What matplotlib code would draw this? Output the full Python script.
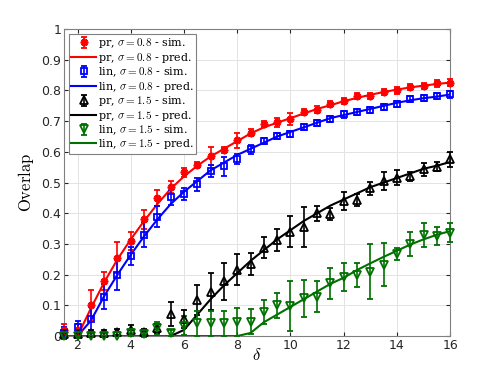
import numpy as np
import matplotlib
matplotlib.use("Agg")
import matplotlib.pyplot as plt

plt.rcParams["mathtext.fontset"] = "cm"

delta = np.arange(1.5, 16.01, 0.5)

# pr, sigma = 0.8
pr08_sim = [0.02, 0.02, 0.10, 0.18, 0.255, 0.31, 0.38, 0.45, 0.486, 0.533,
            0.557, 0.587, 0.606, 0.638, 0.663, 0.69, 0.697, 0.707, 0.73, 0.738,
            0.756, 0.766, 0.782, 0.782, 0.796, 0.80, 0.81, 0.815, 0.823, 0.826]
pr08_err = [0.02, 0.02, 0.05, 0.03, 0.05, 0.03, 0.03, 0.025, 0.02, 0.015,
            0.01, 0.03, 0.01, 0.025, 0.01, 0.01, 0.015, 0.02, 0.01, 0.01,
            0.01, 0.01, 0.01, 0.01, 0.01, 0.01, 0.01, 0.01, 0.01, 0.01]
pr08_pred = [0.0, 0.0, 0.09, 0.175, 0.25, 0.315, 0.375, 0.43, 0.48, 0.52,
             0.555, 0.585, 0.61, 0.635, 0.66, 0.68, 0.695, 0.71, 0.725, 0.74,
             0.752, 0.765, 0.776, 0.786, 0.795, 0.803, 0.81, 0.816, 0.821, 0.826]

# lin, sigma = 0.8
lin08_sim = [0.01, 0.03, 0.054, 0.128, 0.20, 0.26, 0.33, 0.389, 0.452, 0.462,
             0.494, 0.537, 0.553, 0.577, 0.609, 0.635, 0.652, 0.658, 0.68, 0.693,
             0.706, 0.722, 0.729, 0.736, 0.747, 0.756, 0.771, 0.776, 0.783, 0.787]
lin08_err = [0.02, 0.02, 0.04, 0.04, 0.05, 0.03, 0.04, 0.035, 0.025, 0.02,
             0.02, 0.02, 0.03, 0.015, 0.015, 0.01, 0.01, 0.01, 0.01, 0.01,
             0.01, 0.01, 0.01, 0.01, 0.01, 0.01, 0.01, 0.01, 0.01, 0.01]
lin08_pred = [0.0, 0.0, 0.05, 0.13, 0.20, 0.265, 0.325, 0.38, 0.43, 0.47,
              0.505, 0.54, 0.565, 0.59, 0.61, 0.63, 0.65, 0.665, 0.68, 0.695,
              0.71, 0.72, 0.73, 0.74, 0.75, 0.76, 0.768, 0.775, 0.78, 0.787]

# pr, sigma = 1.5
pr15_sim = [0.007, 0.007, 0.01, 0.01, 0.014, 0.02, 0.014, 0.025, 0.072, 0.056,
            0.117, 0.144, 0.178, 0.216, 0.235, 0.288, 0.313, 0.34, 0.354, 0.40,
            0.397, 0.44, 0.444, 0.481, 0.506, 0.516, 0.52, 0.543, 0.552, 0.576]
pr15_err = [0.01, 0.01, 0.01, 0.01, 0.01, 0.015, 0.01, 0.015, 0.04, 0.03,
            0.05, 0.06, 0.06, 0.05, 0.035, 0.035, 0.035, 0.05, 0.065, 0.025,
            0.02, 0.03, 0.02, 0.02, 0.03, 0.025, 0.015, 0.02, 0.015, 0.025]
pr15_pred = [0.0, 0.0, 0.0, 0.0, 0.0, 0.0, 0.0, 0.0, 0.0, 0.02,
             0.07, 0.12, 0.165, 0.205, 0.245, 0.28, 0.315, 0.345, 0.375, 0.40,
             0.425, 0.445, 0.465, 0.485, 0.50, 0.515, 0.53, 0.545, 0.555, 0.567]

# lin, sigma = 1.5
lin15_sim = [0.0, 0.0, 0.0, 0.0, 0.0, 0.011, 0.006, 0.025, 0.011, 0.034,
             0.041, 0.041, 0.041, 0.045, 0.047, 0.079, 0.10, 0.098, 0.123, 0.128,
             0.172, 0.193, 0.199, 0.21, 0.232, 0.268, 0.30, 0.329, 0.325, 0.337]
lin15_err = [0.0, 0.0, 0.0, 0.0, 0.0, 0.01, 0.01, 0.02, 0.01, 0.03,
             0.04, 0.04, 0.04, 0.045, 0.04, 0.04, 0.04, 0.08, 0.06, 0.05,
             0.05, 0.045, 0.04, 0.09, 0.07, 0.02, 0.04, 0.04, 0.03, 0.03]
lin15_pred = [0.0, 0.0, 0.0, 0.0, 0.0, 0.0, 0.0, 0.0, 0.0, 0.0,
              0.0, 0.0, 0.0, 0.0, 0.01, 0.045, 0.07, 0.095, 0.12, 0.145,
              0.17, 0.19, 0.215, 0.237, 0.258, 0.278, 0.298, 0.315, 0.33, 0.342]

green = "#007000"
series = [
    ("pr", "0.8", pr08_sim, pr08_err, pr08_pred, "red", (8, 2, 0), 5.5),
    ("lin", "0.8", lin08_sim, lin08_err, lin08_pred, "blue", "s", 5),
    ("pr", "1.5", pr15_sim, pr15_err, pr15_pred, "black", "^", 6),
    ("lin", "1.5", lin15_sim, lin15_err, lin15_pred, green, "v", 6),
]

fig = plt.figure(figsize=(4.98, 3.78), dpi=100)
ax = fig.add_axes([0.129, 0.111, 0.775, 0.812])

handles = []
for name, sig, sim, err, pred, col, mk, size in series:
    eb = ax.errorbar(delta, sim, yerr=err, marker=mk, linestyle="none", color=col,
                     mfc="none", mec=col, ms=size, mew=1.3, elinewidth=1.2,
                     capsize=2.2, capthick=1.2,
                     label=rf"{name}, $\sigma = {sig}$ - sim.", zorder=3)
    for art in eb.get_children():
        art.set_clip_on(False)
    ln, = ax.plot(delta, pred, color=col, lw=1.5,
                  label=rf"{name}, $\sigma = {sig}$ - pred.", zorder=2)
    handles += [eb, ln]

ax.set_xlim(1.5, 16)
ax.set_ylim(0, 1)
ax.set_xticks(np.arange(2, 17, 2))
ax.set_yticks(np.arange(0, 1.01, 0.1))
ax.set_yticklabels(["0", "0.1", "0.2", "0.3", "0.4", "0.5", "0.6", "0.7", "0.8", "0.9", "1"])
ax.grid(True, color="#e3e3e3", lw=0.7)
ax.set_axisbelow(True)
ax.tick_params(direction="in", labelsize=9, colors="#262626", length=3,
               top=True, right=True, pad=2)
for sp in ax.spines.values():
    sp.set_color("#808080")
    sp.set_linewidth(0.8)

ax.set_xlabel(r"$\delta$", fontsize=12, labelpad=-4)
ax.set_ylabel(r"$\mathrm{Overlap}$", fontsize=12, labelpad=4)

leg = ax.legend(handles=handles, loc="upper left",
                prop={"family": "DejaVu Serif", "size": 8},
                handlelength=2.2, handletextpad=0.2, labelspacing=0.05,
                borderpad=0.2, borderaxespad=0.45, fancybox=False, framealpha=1,
                edgecolor="#808080")
leg.get_frame().set_linewidth(0.8)

fig.savefig("out.png", dpi=100)
